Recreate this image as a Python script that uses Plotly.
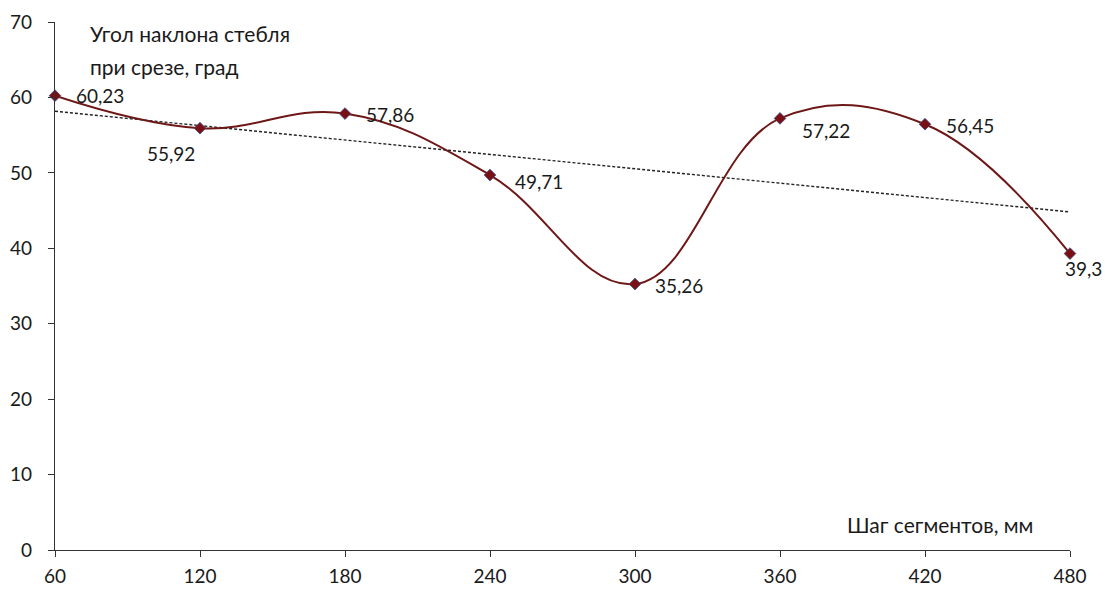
import numpy as np
import plotly.graph_objects as go

# Segment step, mm
steps = [60, 120, 180, 240, 300, 360, 420, 480]
# Stem tilt angle at cut, degrees
angles = [60.23, 55.92, 57.86, 49.71, 35.26, 57.22, 56.45, 39.3]
labels = ["60,23", "55,92", "57,86", "49,71", "35,26", "57,22", "56,45", "39,3"]

# label offsets in pixels (dx, dy), dy positive = up
label_offsets = [(45, 0), (-29, -25), (45, -1), (49, -6), (44, -1), (46, -12), (45, -1), (13, -15)]

# Linear trend
k, b = np.polyfit(steps, angles, 1)
trend_x = [steps[0], steps[-1]]
trend_y = [k * x + b for x in trend_x]

font_family = "Lato, 'Open Sans', sans-serif"
text_color = "#1a1a1a"

fig = go.Figure()

fig.add_trace(go.Scatter(
    x=trend_x, y=trend_y, mode="lines",
    line=dict(color="#222222", width=1.4, dash="3px,2px"),
    hoverinfo="skip", showlegend=False,
))

fig.add_trace(go.Scatter(
    x=steps, y=angles, mode="lines+markers", cliponaxis=False,
    line=dict(color="#6e1717", width=2, shape="spline", smoothing=1.15),
    marker=dict(symbol="diamond", size=9, color="#7a0f14",
                line=dict(color="#3a4f8a", width=0.8)),
    showlegend=False,
))

annotations = []
for x, y, t, (dx, dy) in zip(steps, angles, labels, label_offsets):
    annotations.append(dict(
        x=x, y=y, text=t, showarrow=False, xshift=dx, yshift=dy,
        font=dict(family=font_family, size=19, color=text_color),
    ))

# vertical axis caption, two lines
for line_text, ypos in [("Угол наклона стебля", 0.979), ("при срезе, град", 0.915)]:
    annotations.append(dict(
        xref="paper", yref="paper", x=0.0325, y=ypos, xanchor="left", yanchor="middle",
        text=line_text, showarrow=False,
        font=dict(family=font_family, size=21, color=text_color),
    ))
# horizontal axis caption
annotations.append(dict(
    xref="paper", yref="paper", x=0.9655, y=0.049, xanchor="right", yanchor="middle",
    text="Шаг сегментов, мм", showarrow=False,
    font=dict(family=font_family, size=21, color=text_color),
))

fig.update_layout(
    width=1105, height=590,
    margin=dict(l=55, r=35, t=22, b=40),
    paper_bgcolor="white", plot_bgcolor="white",
    annotations=annotations,
    font=dict(family=font_family, size=19, color=text_color),
)

fig.update_xaxes(
    range=[60, 480], tickvals=steps, ticktext=[str(s) for s in steps],
    showgrid=False, zeroline=False, showline=True, linecolor="#333333", linewidth=1.2,
    ticks="outside", ticklen=6, tickcolor="#333333", ticklabelstandoff=3,
    automargin=False,
    tickfont=dict(family=font_family, size=19, color=text_color),
)
fig.update_yaxes(
    range=[0, 70], dtick=10,
    showgrid=False, zeroline=False, showline=True, linecolor="#333333", linewidth=1.2,
    ticks="outside", ticklen=6, tickcolor="#333333", ticklabelstandoff=12,
    automargin=False,
    tickfont=dict(family=font_family, size=19, color=text_color),
)

fig.write_html("out.html")
